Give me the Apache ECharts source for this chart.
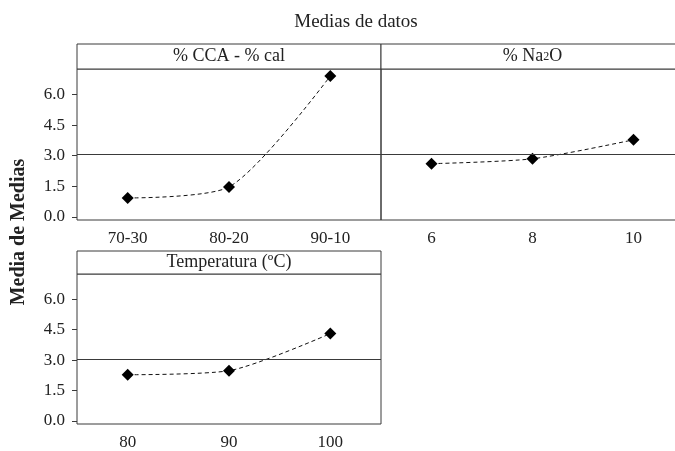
<!DOCTYPE html>
<html>
<head>
<meta charset="utf-8">
<script src="https://cdn.jsdelivr.net/npm/echarts@6/dist/echarts.min.js"></script>
<style>
  html, body { margin: 0; padding: 0; background: #fff; }
  #chart { width: 675px; height: 451px; }
</style>
</head>
<body>
<div id="chart"></div>
<script>
  // factor levels and main-effect means
  var ccaLevels = ['70-30', '80-20', '90-10'];
  var ccaMeans = [0.93, 1.47, 6.91];
  var na2oLevels = ['6', '8', '10'];
  var na2oMeans = [2.61, 2.85, 3.78];
  var tempLevels = ['80', '90', '100'];
  var tempMeans = [2.28, 2.48, 4.31];
  var grandMean = 3.05;
  var yTicks = [0, 1.5, 3, 4.5, 6];

  var chartDom = document.getElementById('chart');
  var myChart = echarts.init(chartDom);

  var serif = 'Liberation Serif';
  var frame = '#3a3a3a';

  // one panel = grid + axes + series
  function yAxisFor(idx, showLabels) {
    return {
      type: 'value',
      gridIndex: idx,
      min: -0.15,
      max: 7.25,
      splitLine: { show: false },
      axisLine: { show: false },
      axisTick: {
        show: showLabels,
        length: 5,
        customValues: yTicks,
        lineStyle: { color: frame }
      },
      axisLabel: {
        show: showLabels,
        customValues: yTicks,
        margin: 12,
        color: '#222',
        fontFamily: serif,
        fontSize: 17,
        formatter: function (v) { return v.toFixed(1); }
      }
    };
  }

  function xAxisFor(idx, cats) {
    return {
      type: 'category',
      gridIndex: idx,
      data: cats,
      boundaryGap: true,
      axisLine: { show: false },
      axisTick: { alignWithLabel: true, length: 4, lineStyle: { color: frame } },
      axisLabel: { margin: 10, color: '#222', fontFamily: serif, fontSize: 17 }
    };
  }

  function seriesFor(idx, vals) {
    return {
      type: 'line',
      xAxisIndex: idx,
      yAxisIndex: idx,
      data: vals,
      smooth: 0.25,
      symbol: 'diamond',
      symbolSize: 12,
      itemStyle: { color: '#000' },
      lineStyle: { color: '#111', width: 1, type: [4, 3] },
      silent: true,
      markLine: {
        silent: true,
        symbol: 'none',
        label: { show: false },
        lineStyle: { color: frame, width: 1, type: 'solid' },
        data: [{ yAxis: grandMean }]
      }
    };
  }

  function header(x, y, w, h, label) {
    return {
      type: 'group',
      children: [
        {
          type: 'rect',
          shape: { x: x, y: y, width: w, height: h },
          style: { fill: '#fff', stroke: frame, lineWidth: 1 }
        },
        {
          type: 'text',
          x: x + w / 2,
          y: y + h / 2,
          style: {
            text: label,
            align: 'center',
            verticalAlign: 'middle',
            fill: '#222',
            font: '18px ' + serif,
            rich: { s: { fontSize: 12, fontFamily: serif, fill: '#222' } }
          }
        }
      ]
    };
  }

  var gridBase = { show: true, borderColor: frame, borderWidth: 1, outerBoundsMode: 'none' };

  var option = {
    backgroundColor: '#fff',
    animation: false,
    title: {
      text: 'Medias de datos',
      left: 351,
      top: 8,
      textAlign: 'center',
      textStyle: { fontFamily: serif, fontSize: 19, fontWeight: 'normal', color: '#222' }
    },
    grid: [
      Object.assign({ left: 77, top: 69, width: 304, height: 151 }, gridBase),
      Object.assign({ left: 381, top: 69, width: 303, height: 151 }, gridBase),
      Object.assign({ left: 77, top: 274, width: 304, height: 150 }, gridBase)
    ],
    xAxis: [
      xAxisFor(0, ccaLevels),
      xAxisFor(1, na2oLevels),
      xAxisFor(2, tempLevels)
    ],
    yAxis: [
      yAxisFor(0, true),
      yAxisFor(1, false),
      yAxisFor(2, true)
    ],
    series: [
      seriesFor(0, ccaMeans),
      seriesFor(1, na2oMeans),
      seriesFor(2, tempMeans)
    ],
    graphic: [
      header(77, 44, 304, 25, '% CCA - % cal'),
      header(381, 44, 303, 25, '% Na{s|2}O'),
      header(77, 251, 304, 23, 'Temperatura (ºC)'),
      {
        type: 'text',
        x: 19,
        y: 232,
        rotation: Math.PI / 2,
        style: {
          text: 'Media de Medias',
          align: 'center',
          verticalAlign: 'middle',
          fill: '#222',
          font: 'bold 20px ' + serif
        }
      }
    ]
  };

  option && myChart.setOption(option);
</script>
</body>
</html>
